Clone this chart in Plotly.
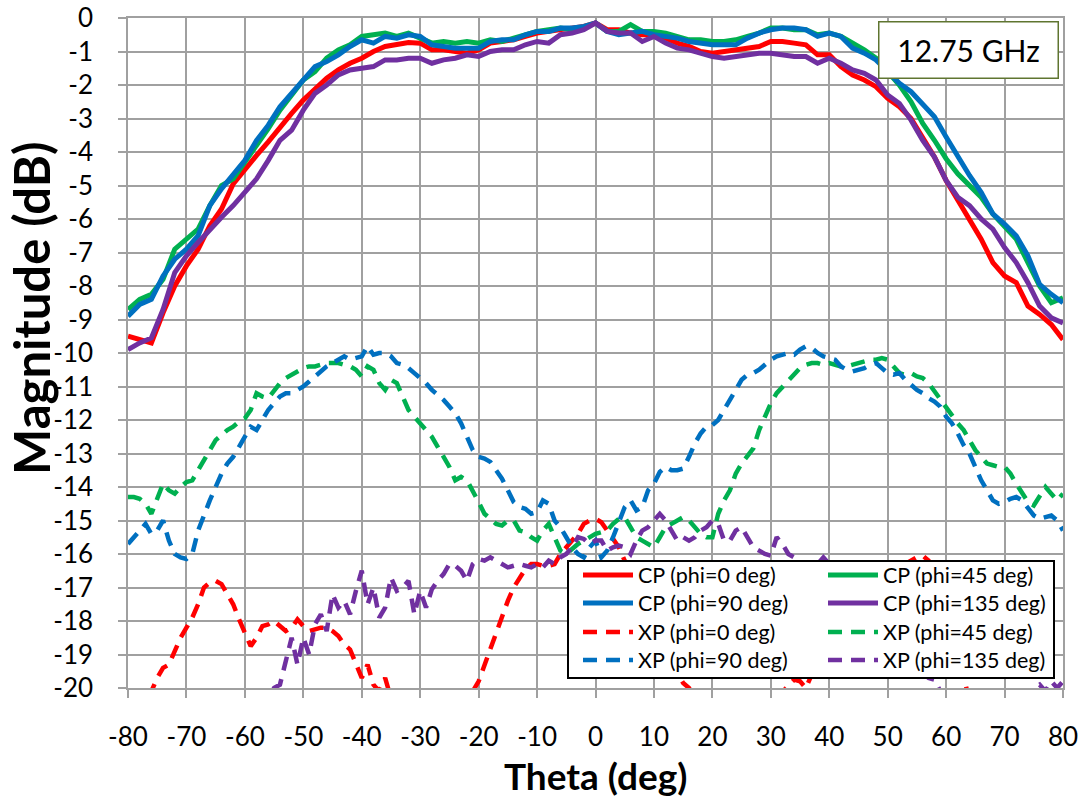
import plotly.graph_objects as go

# ---- data -------------------------------------------------------------
# co-pol (CP) cuts, sampled every 2 deg
theta_cp = list(range(-80, 81, 2))

cp_phi0 = [-9.5, -9.6, -9.7, -8.8, -8.0, -7.4, -6.9, -6.2, -5.7, -4.95, -4.5,
           -4.1, -3.7, -3.25, -2.85, -2.45, -2.1, -1.8, -1.55, -1.35, -1.2,
           -1.0, -0.85, -0.8, -0.73, -0.75, -0.95, -0.95, -1.0, -1.05, -0.95,
           -0.75, -0.7, -0.65, -0.55, -0.45, -0.4, -0.35, -0.3, -0.25, -0.15,
           -0.35, -0.35, -0.45, -0.5, -0.5, -0.6, -0.75, -0.85, -1.0, -1.05,
           -1.0, -0.95, -0.9, -0.85, -0.7, -0.7, -0.75, -0.8, -1.1, -1.1,
           -1.45, -1.7, -1.85, -2.05, -2.4, -2.65, -3.0, -3.55, -4.15, -4.85,
           -5.45, -6.0, -6.6, -7.3, -7.7, -7.9, -8.6, -8.85, -9.15, -9.6]

cp_phi45 = [-8.7, -8.4, -8.25, -7.8, -6.9, -6.6, -6.3, -5.6, -5.0, -4.8, -4.3,
            -3.85, -3.3, -2.75, -2.3, -1.85, -1.6, -1.2, -0.95, -0.8, -0.55,
            -0.5, -0.45, -0.55, -0.45, -0.6, -0.75, -0.7, -0.75, -0.7, -0.75,
            -0.65, -0.7, -0.6, -0.5, -0.4, -0.35, -0.3, -0.35, -0.3, -0.15,
            -0.4, -0.4, -0.2, -0.4, -0.4, -0.45, -0.55, -0.65, -0.65, -0.7,
            -0.7, -0.65, -0.55, -0.45, -0.3, -0.3, -0.35, -0.35, -0.5, -0.45,
            -0.55, -0.75, -0.95, -1.2, -1.6, -2.0, -2.5, -3.15, -3.65, -4.2,
            -4.65, -5.0, -5.35, -5.85, -6.2, -6.6, -7.3, -8.0, -8.5, -8.35]

cp_phi90 = [-8.9, -8.55, -8.4, -7.7, -7.2, -6.9, -6.5, -5.6, -5.1, -4.7, -4.25,
            -3.65, -3.2, -2.65, -2.25, -1.9, -1.45, -1.3, -1.1, -0.85, -0.65,
            -0.75, -0.55, -0.6, -0.5, -0.55, -0.8, -0.85, -0.9, -0.9, -0.9,
            -0.7, -0.65, -0.65, -0.5, -0.4, -0.4, -0.3, -0.3, -0.25, -0.15,
            -0.4, -0.5, -0.45, -0.4, -0.5, -0.55, -0.6, -0.7, -0.75, -0.8,
            -0.8, -0.8, -0.6, -0.45, -0.35, -0.3, -0.3, -0.35, -0.55, -0.45,
            -0.55, -0.9, -1.05, -1.25, -1.6, -1.95, -2.2, -2.55, -2.95, -3.55,
            -4.15, -4.7, -5.2, -5.85, -6.15, -6.5, -7.1, -7.95, -8.25, -8.5]

cp_phi135 = [-9.9, -9.7, -9.55, -8.7, -7.6, -7.1, -6.7, -6.3, -5.95, -5.6, -5.2,
             -4.8, -4.25, -3.65, -3.35, -2.75, -2.25, -2.0, -1.7, -1.55, -1.5,
             -1.45, -1.25, -1.25, -1.2, -1.2, -1.35, -1.25, -1.2, -1.1, -1.15,
             -1.0, -0.95, -0.95, -0.8, -0.7, -0.75, -0.5, -0.45, -0.35, -0.15,
             -0.4, -0.45, -0.45, -0.7, -0.55, -0.75, -0.9, -0.95, -1.05, -1.15,
             -1.2, -1.15, -1.1, -1.05, -1.05, -1.1, -1.15, -1.15, -1.35, -1.2,
             -1.35, -1.55, -1.65, -1.85, -2.3, -2.55, -3.05, -3.65, -4.15, -4.85,
             -5.35, -5.6, -6.0, -6.3, -6.85, -7.3, -7.9, -8.6, -8.95, -9.1]

# cross-pol (XP) cuts, sampled every 1 deg
theta_xp = list(range(-80, 81, 1))

xp_phi0 = [-20.6, -20.5, -20.4, -20.3, -20.1, -19.7, -19.4, -19.3, -18.9, -18.5,
           -18.2, -17.9, -17.5, -17.0, -16.85, -16.8, -16.9, -17.2, -17.5, -17.95,
           -18.35, -18.75, -18.5, -18.15, -18.1, -18.0, -18.15, -18.3, -18.2, -17.95,
           -18.15, -18.3, -18.25, -18.2, -18.2, -18.3, -18.45, -18.7, -18.85, -19.3,
           -19.7, -19.3, -19.9, -20.1, -19.7, -20.3, -20.6, -20.8, -21.0, -21.1,
           -21.2, -21.3, -21.3, -21.2, -21.1, -21.0, -20.9, -20.8, -20.6, -20.1,
           -19.8, -19.3, -18.9, -18.4, -17.9, -17.4, -17.0, -16.7, -16.45, -16.3,
           -16.3, -16.35, -16.35, -16.3, -16.0, -15.8, -15.6, -15.4, -15.1, -15.0,
           -14.95, -15.05, -15.3, -15.55, -15.8, -16.2, -16.6, -17.1, -17.5, -17.9,
           -18.3, -18.7, -19.0, -19.3, -19.6, -19.85, -20.0, -20.3, -20.5, -20.6,
           -20.7, -20.8, -20.8, -20.8, -20.7, -20.7, -20.6, -20.5, -20.4, -20.3,
           -20.2, -20.3, -20.1, -19.9, -19.75, -19.8, -20.0, -19.6, -19.0, -18.6,
           -18.3, -18.0, -17.6, -17.4, -17.2, -17.0, -16.8, -16.7, -16.6, -16.5,
           -16.45, -16.4, -16.4, -16.3, -16.2, -16.1, -16.05, -16.2, -16.6, -17.0,
           -17.5, -18.1, -18.9, -19.6, -20.4, -20.7, -20.9, -21.0, -21.1, -21.2,
           -21.2, -21.3, -21.3, -21.3, -21.4, -21.4, -21.4, -21.5, -21.5, -21.5,
           -21.6]

xp_phi45 = [-14.3, -14.3, -14.35, -14.5, -14.8, -14.3, -13.9, -14.1, -14.2, -14.0,
            -13.85, -13.8, -13.5, -13.2, -12.85, -12.6, -12.45, -12.3, -12.2, -12.05,
            -11.95, -11.7, -11.2, -11.3, -11.35, -11.1, -10.9, -10.75, -10.65, -10.55,
            -10.45, -10.4, -10.4, -10.35, -10.3, -10.3, -10.3, -10.35, -10.4, -10.5,
            -10.7, -10.4, -10.5, -10.9, -11.1, -10.8, -10.9, -11.3, -11.7, -11.9,
            -12.1, -12.3, -12.5, -12.8, -13.1, -13.4, -13.8, -13.7, -13.8, -14.1,
            -14.45, -14.8, -14.95, -15.1, -15.15, -15.0, -15.0, -15.3, -15.35, -15.5,
            -15.6, -15.3, -15.1, -15.5, -15.9, -16.0, -15.85, -15.7, -15.6, -15.5,
            -15.4, -15.35, -15.3, -15.1, -14.95, -14.9, -15.2, -15.5, -15.6, -15.7,
            -15.8, -15.5, -15.2, -15.1, -15.0, -14.9, -15.0, -15.2, -15.4, -15.5,
            -15.5, -14.8, -14.4, -14.1, -13.6, -13.3, -13.1, -12.85, -12.3, -11.9,
            -11.5, -11.2, -11.0, -10.8, -10.6, -10.45, -10.35, -10.3, -10.3, -10.35,
            -10.3, -10.35, -10.4, -10.4, -10.35, -10.3, -10.25, -10.2, -10.2, -10.15,
            -10.2, -10.4, -10.6, -10.65, -10.6, -10.7, -10.75, -10.9, -11.15, -11.4,
            -11.6, -11.9, -12.1, -12.3, -12.6, -12.9, -13.1, -13.3, -13.35, -13.4,
            -13.4, -13.6, -13.9, -14.2, -14.45, -14.55, -14.3, -14.0, -14.2, -14.4,
            -14.2]

xp_phi90 = [-15.7, -15.5, -15.3, -15.1, -15.4, -15.3, -15.0, -15.6, -16.0, -16.1,
            -16.15, -16.0, -15.3, -14.8, -14.4, -14.0, -13.6, -13.3, -13.1, -12.8,
            -12.5, -12.2, -12.3, -12.0, -11.7, -11.5, -11.3, -11.2, -11.2, -11.1,
            -11.0, -10.85, -10.7, -10.55, -10.4, -10.3, -10.2, -10.1, -10.2, -10.15,
            -10.1, -9.8, -10.05, -10.0, -10.0, -10.1, -10.3, -10.35, -10.45, -10.6,
            -10.75, -10.9, -11.1, -11.25, -11.4, -11.6, -11.8, -12.1, -12.5, -12.9,
            -13.1, -13.15, -13.25, -13.5, -13.75, -14.1, -14.45, -14.6, -14.65, -14.8,
            -14.75, -14.4, -14.5, -15.0, -15.2, -15.5, -15.8, -16.0, -16.1, -15.8,
            -15.6, -16.1, -15.9, -15.5, -15.0, -14.6, -14.4, -14.7, -14.6, -14.1,
            -13.9, -13.55, -13.4, -13.5, -13.5, -13.45, -13.1, -12.7, -12.4, -12.2,
            -12.15, -12.0, -11.7, -11.4, -11.1, -10.8, -10.65, -10.6, -10.5, -10.35,
            -10.2, -10.1, -10.05, -10.0, -10.05, -9.9, -9.8, -9.85, -10.0, -10.1,
            -10.15, -10.2, -10.4, -10.5, -10.55, -10.5, -10.45, -10.35, -10.3, -10.45,
            -10.6, -10.65, -10.6, -10.8, -10.95, -11.1, -11.2, -11.35, -11.45, -11.6,
            -11.9, -12.1, -12.4, -12.75, -13.0, -13.4, -13.8, -14.1, -14.4, -14.5,
            -14.45, -14.35, -14.3, -14.4, -14.6, -14.85, -14.95, -14.9, -14.85, -15.0,
            -15.3]

xp_phi135 = [-21.5, -21.4, -21.4, -21.3, -21.3, -21.2, -21.2, -21.1, -21.1, -21.0,
             -21.0, -20.9, -20.9, -20.8, -20.8, -20.7, -20.7, -20.6, -20.6, -20.5,
             -20.5, -20.4, -20.4, -20.3, -20.3, -20.0, -19.9, -19.2, -18.5, -19.3,
             -18.5, -19.0, -18.1, -17.8, -18.3, -17.2, -17.6, -17.4, -17.8, -17.1,
             -16.5, -17.5, -17.0, -17.9, -17.6, -16.7, -17.1, -17.0, -16.8, -17.8,
             -17.1, -17.6, -17.05, -16.8, -16.6, -16.3, -16.35, -16.5, -16.8, -16.3,
             -16.15, -16.2, -16.1, -16.2, -16.3, -16.4, -16.35, -16.3, -16.35, -16.4,
             -16.3, -16.4, -16.2, -16.3, -16.1, -16.0, -15.8, -15.5, -15.55, -15.7,
             -15.6, -15.6, -15.9, -15.8, -15.75, -15.8, -16.0, -15.6, -15.3, -15.2,
             -15.0, -14.8, -15.0, -15.3, -15.6, -15.5, -15.6, -15.5, -15.3, -15.2,
             -15.0, -15.1, -15.6, -15.6, -15.3, -15.2, -15.5, -15.8, -15.9, -16.0,
             -16.05, -15.5, -15.7, -16.0, -16.1, -16.2, -16.4, -16.5, -16.3, -16.1,
             -16.3, -16.6, -16.8, -17.0, -17.2, -17.4, -17.6, -17.8, -18.0, -18.2,
             -18.4, -18.6, -18.8, -19.0, -19.2, -19.4, -19.55, -19.7, -19.75, -20.1,
             -20.2, -20.4, -20.5, -20.5, -20.5, -20.4, -20.4, -20.3, -20.3, -20.3,
             -20.3, -20.2, -20.2, -20.2, -20.2, -20.0, -19.9, -20.1, -19.8, -20.0,
             -19.8]

x_tick_values = list(range(-80, 81, 10))
x_tick_labels = [str(v) for v in x_tick_values]
y_tick_values = list(range(-20, 1, 1))
y_tick_labels = [str(v) for v in y_tick_values]

DASH = "14px,9px"
series = [
    ("CP (phi=0 deg)", theta_cp, cp_phi0, "#FF0000", "solid"),
    ("CP (phi=45 deg)", theta_cp, cp_phi45, "#00B050", "solid"),
    ("CP (phi=90 deg)", theta_cp, cp_phi90, "#0070C0", "solid"),
    ("CP (phi=135 deg)", theta_cp, cp_phi135, "#7030A0", "solid"),
    ("XP (phi=0 deg)", theta_xp, xp_phi0, "#FF0000", DASH),
    ("XP (phi=45 deg)", theta_xp, xp_phi45, "#00B050", DASH),
    ("XP (phi=90 deg)", theta_xp, xp_phi90, "#0070C0", DASH),
    ("XP (phi=135 deg)", theta_xp, xp_phi135, "#7030A0", DASH),
]

FONT = "Lato"
GRID = "#A0A0A0"

# legend grid: two columns, four rows (pixel positions inside the frame)
LEG_COL_X = [578, 823]
LEG_ROW_Y = [575, 603, 632, 660]
PLOT_L, PLOT_R, PLOT_T, PLOT_B = 128, 1063, 18, 688
PW, PH = PLOT_R - PLOT_L, PLOT_B - PLOT_T


def px_to_paper(px, py):
    return (px - PLOT_L) / PW, (PLOT_B - py) / PH


fig = go.Figure()
legend_layouts = {}
order = [4, 5, 6, 7, 0, 1, 2, 3]  # dashed cross-pol drawn first, co-pol on top
for i in order:
    name, xs, ys, color, dash = series[i]
    leg_id = "legend" if i == 0 else f"legend{i + 1}"
    fig.add_trace(go.Scatter(
        x=xs, y=ys, mode="lines", name=name,
        line=dict(color=color, width=5 if dash == "solid" else 4.5, dash=dash),
        legend=leg_id,
    ))
    lx, ly = px_to_paper(LEG_COL_X[i % 2], LEG_ROW_Y[i // 2])
    legend_layouts[leg_id] = dict(
        x=lx, y=ly, xanchor="left", yanchor="middle",
        bgcolor="rgba(0,0,0,0)", borderwidth=0, itemwidth=50,
        font=dict(family=FONT, size=21.5, color="black"),
    )

axis_common = dict(
    showgrid=True, gridcolor=GRID, gridwidth=1.5,
    showline=True, linecolor=GRID, linewidth=1.5, mirror=True,
    zeroline=False, ticks="outside", tickcolor=GRID, tickwidth=1.5, ticklen=8,
    tickfont=dict(family=FONT, size=26, color="black"),
    automargin=False,
)

fig.update_layout(
    width=1085, height=801,
    margin=dict(l=PLOT_L, r=1085 - PLOT_R, t=PLOT_T, b=801 - PLOT_B),
    paper_bgcolor="white", plot_bgcolor="white",
    xaxis=dict(range=[-80, 80], tickmode="array", tickvals=x_tick_values,
               ticktext=x_tick_labels, ticklabelstandoff=17, **axis_common),
    yaxis=dict(range=[-20, 0], tickmode="array", tickvals=y_tick_values,
               ticktext=y_tick_labels, ticklabelstandoff=20, **axis_common),
    showlegend=True,
    **legend_layouts,
)

# legend frame covering the plot underneath
fx0, fy0 = px_to_paper(568, 678)
fx1, fy1 = px_to_paper(1054, 561)
fig.add_shape(type="rect", xref="paper", yref="paper",
              x0=fx0, x1=fx1, y0=fy0, y1=fy1,
              line=dict(color="black", width=2), fillcolor="white", layer="above")

# frequency label
bx, by = px_to_paper(968, 50.5)
fig.add_annotation(x=bx, y=by, xref="paper", yref="paper",
                   xanchor="center", yanchor="middle", showarrow=False,
                   text="12.75 GHz", font=dict(family=FONT, size=30, color="black"),
                   bgcolor="white", bordercolor="#5F7530", borderwidth=1.5,
                   borderpad=2, width=174, height=51)

# axis titles
tx, ty = px_to_paper(595, 775)
fig.add_annotation(x=tx, y=ty, xref="paper", yref="paper",
                   xanchor="center", yanchor="middle", showarrow=False,
                   text="<b>Theta (deg)</b>", font=dict(family=FONT, size=37, color="black"))
mx, my = px_to_paper(31, 308)
fig.add_annotation(x=mx, y=my, xref="paper", yref="paper",
                   xanchor="center", yanchor="middle", showarrow=False, textangle=-90,
                   text="<b>Magnitude (dB)</b>", font=dict(family=FONT, size=49, color="black"))

fig.write_html("out.html")
